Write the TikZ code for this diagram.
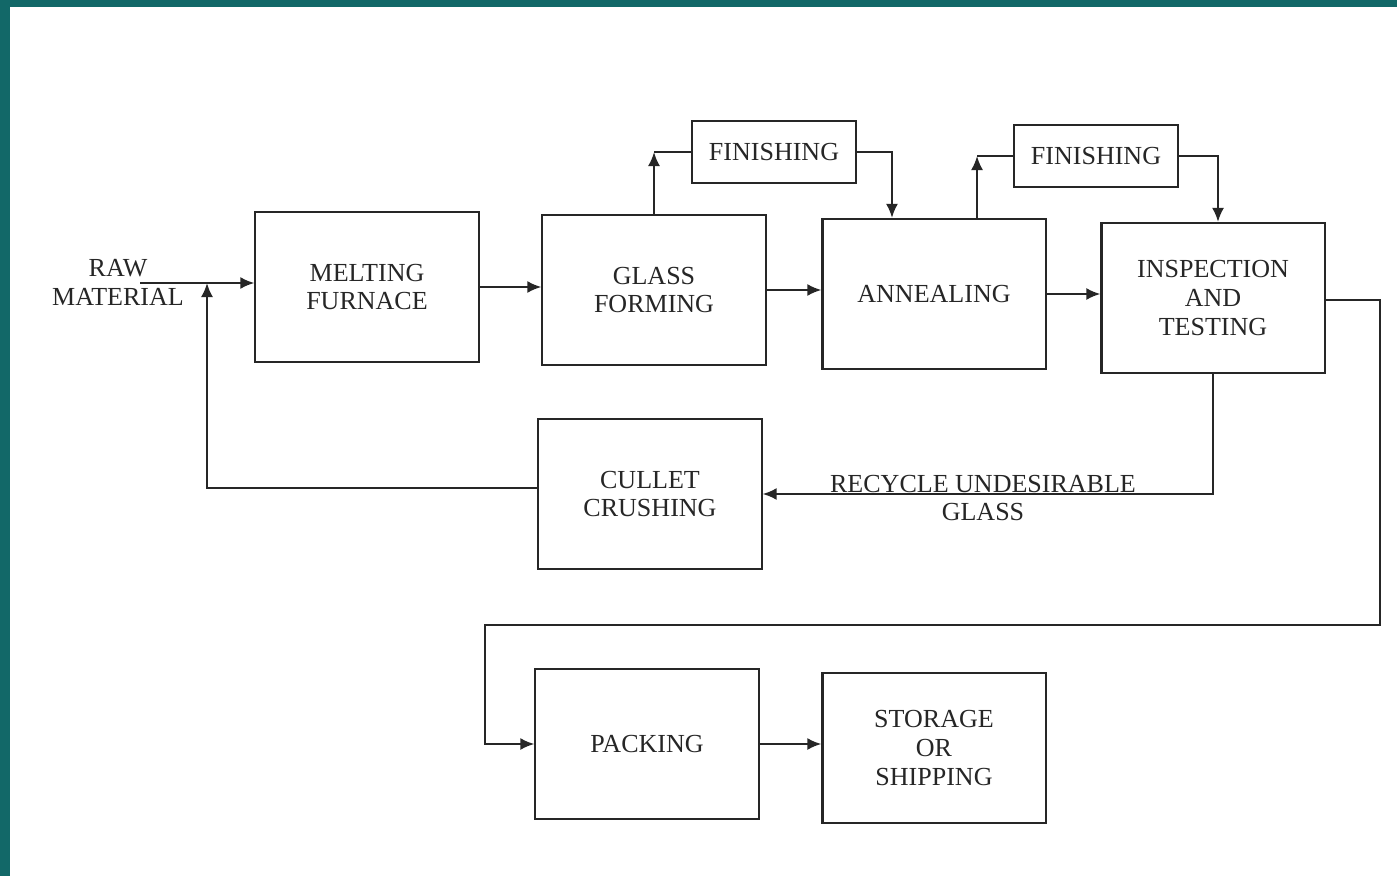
\documentclass[tikz,border=0pt]{standalone}
\usepackage{fontspec}
\setmainfont{Liberation Serif}
\usetikzlibrary{arrows.meta,positioning,calc}
\definecolor{frame}{RGB}{18,104,104}
\definecolor{ink}{RGB}{38,38,38}

\begin{document}
\begin{tikzpicture}[x=0.01cm,y=-0.01cm,
    box/.style={draw=ink, line width=0.6pt, inner sep=0pt, align=center,
      minimum width=2.23cm, minimum height=1.5cm, text=ink,
      font=\fontsize{7.4}{8.2}\selectfont},
    small/.style={box, minimum width=1.64cm, minimum height=0.62cm},
    lbl/.style={align=center, inner sep=0pt, text=ink, font=\fontsize{7.4}{8.2}\selectfont},
    wire/.style={draw=ink, line width=0.6pt},
    flow/.style={wire, -{Latex[length=0.14cm,width=0.12cm]}}]
      % Page and frame
      \fill[white] (0,0) rectangle (1397,876);
      \fill[frame] (0,0) rectangle (1397,7);
      \fill[frame] (0,0) rectangle (10,876);

      % Process boxes
      \node[box] (melt) at (367,287) {MELTING\\FURNACE};
      \node[box] (gform) at (654,290) {GLASS\\FORMING};
      \node[box] (anneal) at (934,294) {ANNEALING};
      \node[box] (insp) at (1213,298) {INSPECTION\\AND\\TESTING};
      \node[small] (fin1) at (774,152) {FINISHING};
      \node[small] (fin2) at (1096,156) {FINISHING};
      \node[box] (cullet) at (650,494) {CULLET\\CRUSHING};
      \node[box] (pack) at (647,744) {PACKING};
      \node[box] (store) at (934,748) {STORAGE\\OR\\SHIPPING};

      % Labels
      \node[lbl] (raw) at (118,282) {RAW\\MATERIAL};
      \node[lbl] (recyc) at (983,498) {RECYCLE UNDESIRABLE\\GLASS};

      % Main line
      \coordinate (rawin) at (140,283);
      \draw[flow] (rawin) -- (melt.west |- rawin);
      \draw[flow] (melt.east) -- (melt.east -| gform.west);
      \draw[flow] (gform.east) -- (gform.east -| anneal.west);
      \draw[flow] (anneal.east) -- (anneal.east -| insp.west);

      % Finishing loops
      \draw[flow] (gform.north) -- (gform.north |- fin1.west);
      \draw[wire] (gform.north |- fin1.west) -- (fin1.west);
      \draw[flow] (fin1.east) -| ([xshift=-0.42cm]anneal.north);
      \draw[flow] ([xshift=0.43cm]anneal.north) -- ([xshift=0.43cm]anneal.north |- fin2.west);
      \draw[wire] ([xshift=0.43cm]anneal.north |- fin2.west) -- (fin2.west);
      \draw[flow] (fin2.east) -| ([xshift=0.05cm]insp.north);

      % Recycle
      \coordinate (join) at (207,283);
      \draw[flow] (insp.south) |- (cullet.east);
      \draw[flow] ([yshift=0.06cm]cullet.west) -| (join);

      % To packing
      \coordinate (turnr) at (1380,625);
      \coordinate (turnl) at (485,625);
      \draw[flow] ([yshift=-0.02cm]insp.east) -| (turnr) -- (turnl) |- (pack.west);
      \draw[flow] (pack.east) -- (pack.east -| store.west);
\end{tikzpicture}
\end{document}
